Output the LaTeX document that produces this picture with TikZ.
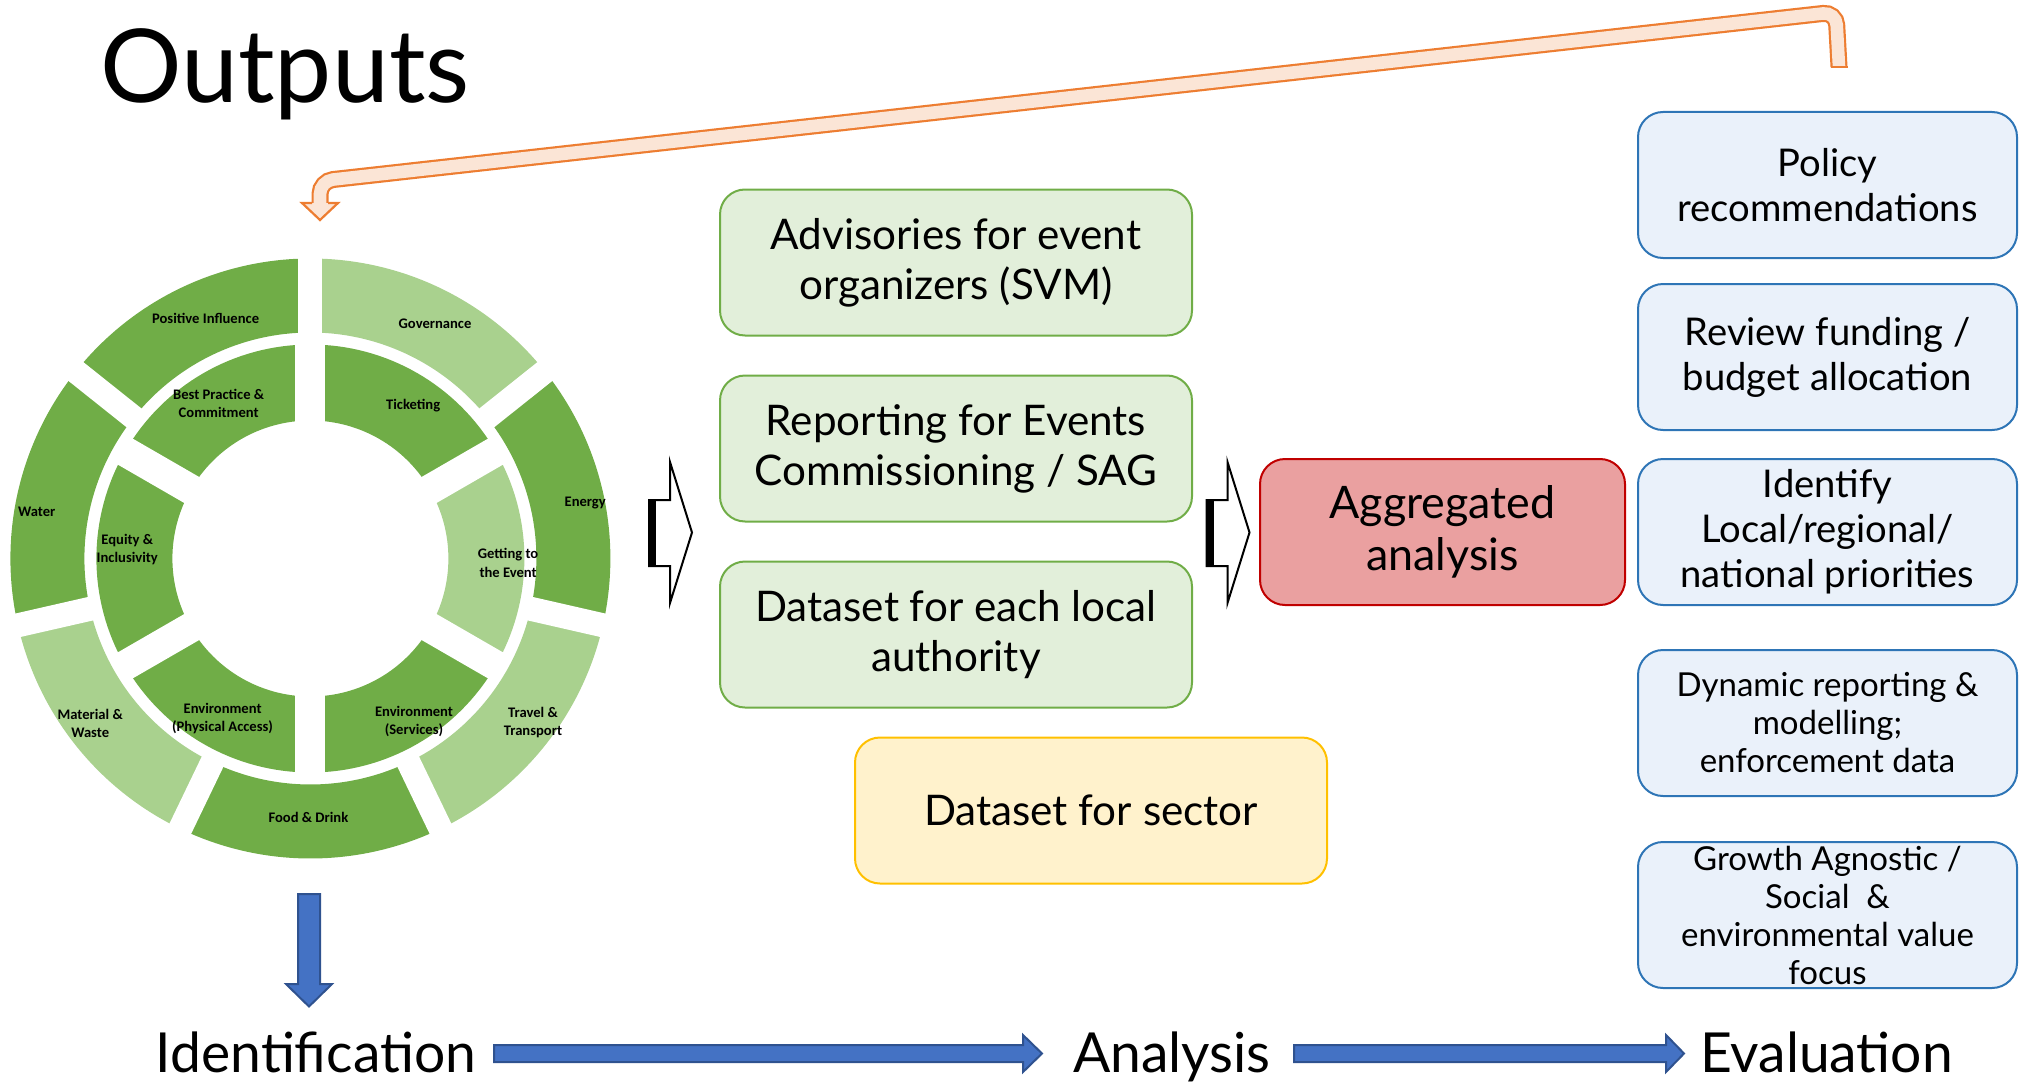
\documentclass[tikz,border=0pt]{standalone}
\usepackage{fontspec}
\setmainfont{Lato}
\newfontfamily\wheelfont{Carlito}
\usetikzlibrary{positioning}
\definecolor{darkgrn}{RGB}{112,173,71}
\definecolor{lightgrn}{RGB}{169,209,142}
\definecolor{grnfill}{RGB}{226,239,218}
\definecolor{bluefill}{RGB}{234,241,250}
\definecolor{blueline}{RGB}{46,117,182}
\definecolor{redfill}{RGB}{234,160,160}
\definecolor{redline}{RGB}{192,0,0}
\definecolor{yelfill}{RGB}{255,242,204}
\definecolor{yelline}{RGB}{255,192,0}
\definecolor{arrfill}{RGB}{68,114,196}
\definecolor{arrline}{RGB}{47,82,143}
\definecolor{orfill}{RGB}{251,229,214}
\definecolor{orline}{RGB}{237,125,49}

\begin{document}
\begin{tikzpicture}[x=0.5pt,y=0.5pt,
  box/.style={rounded corners=12.5pt, line width=1pt, align=center, inner sep=0pt, minimum height=73pt},
  grnbox/.style={box, draw=darkgrn, fill=grnfill, minimum width=236pt, font=\fontsize{21.1}{25}\selectfont},
  yelbox/.style={box, draw=yelline, fill=yelfill, minimum width=236pt, font=\fontsize{21.1}{25}\selectfont},
  redbox/.style={box, draw=redline, fill=redfill, minimum width=182.5pt, font=\fontsize{22.4}{26}\selectfont},
  bluebox/.style={box, draw=blueline, fill=bluefill, minimum width=189.5pt, font=\fontsize{19.1}{22.5}\selectfont},
  smallblue/.style={bluebox, font=\fontsize{16.5}{19}\selectfont},
  wlabel/.style={align=center, inner sep=0pt, font=\wheelfont\bfseries\fontsize{7.3}{9.2}\selectfont},
  stage/.style={anchor=base, inner sep=0pt, font=\fontsize{27.6}{30}\selectfont},
  blockarr/.style={fill=arrfill, draw=arrline, line width=1pt},
  outarr/.style={fill=white, draw=black, line width=1pt, line join=miter}]
\useasboundingbox (0,0) rectangle (2022,-1086);

\node[anchor=base west, inner sep=0pt, font=\fontsize{51}{51}\selectfont] (title) at (100,-103) {Outputs};

\begin{scope}[shift={(310.4,-558.5)}]
\foreach \a/\c in {90/darkgrn, 141.43/darkgrn, 192.86/lightgrn, 244.29/darkgrn, 295.71/lightgrn, 347.14/darkgrn, 398.57/lightgrn}
  \draw[\c, line width=37pt] (\a:263) arc[start angle=\a, delta angle=51.43, radius=263];
\foreach \a/\c in {90/darkgrn, 150/darkgrn, 210/darkgrn, 270/darkgrn, 330/lightgrn, 390/darkgrn}
  \draw[\c, line width=38pt] (\a:176) arc[start angle=\a, delta angle=60, radius=176];
\foreach \a in {90, 141.43, 192.86, 244.29, 295.71, 347.14, 398.57}
  \draw[white, line width=12pt] (\a:220) -- (\a:310);
\foreach \a in {30, 90, 150, 210, 270, 330}
  \draw[white, line width=15pt] (\a:130) -- (\a:220);
\end{scope}

\node[wlabel] (posinf) at (205.6,-318.5) {Positive Influence};
\node[wlabel] (gov) at (435,-323.8) {Governance};
\node[wlabel] (bestp) at (218.7,-403.5) {Best Practice \&\\Commitment};
\node[wlabel] (ticket) at (413.2,-405.6) {Ticketing};
\node[wlabel] (water) at (36.8,-511.9) {Water};
\node[wlabel] (energy) at (585.2,-502.5) {Energy};
\node[wlabel] (equity) at (127.3,-549.5) {Equity \&\\Inclusivity};
\node[wlabel] (getting) at (508.1,-563) {Getting to\\the Event};
\node[wlabel] (waste) at (90.2,-723.2) {Material \&\\Waste};
\node[wlabel] (envpa) at (222.6,-718.3) {Environment\\(Physical Access)};
\node[wlabel] (envsv) at (414,-721.2) {Environment\\(Services)};
\node[wlabel] (travel) at (533,-722.4) {Travel \&\\Transport};
\node[wlabel] (food) at (308.4,-817.7) {Food \& Drink};

\node[grnbox] (adv) at (956,-262.5) {Advisories for event\\organizers (SVM)};
\node[grnbox, below=19pt of adv] (rep) {Reporting for Events\\Commissioning / SAG};
\node[grnbox, below=19pt of rep] (local) {Dataset for each local\\authority};
\node[yelbox] (sector) at (1091,-810.5) {Dataset for sector};
\node[redbox] (agg) at (1442.5,-532) {Aggregated\\analysis};

\node[bluebox] (policy) at (1827.5,-185) {Policy\\recommendations};
\node[bluebox] (review) at (1827.5,-357) {Review funding /\\budget allocation};
\node[bluebox] (prior) at (1827.5,-532) {Identify\\Local/regional/\\national priorities};
\node[smallblue] (dynrep) at (1827.5,-723) {Dynamic reporting \&\\modelling;\\enforcement data};
\node[smallblue] (growth) at (1827.5,-915) {Growth Agnostic /\\Social\ \ \&\\environmental value\\focus};

\foreach \s in {0, 557.5} {
\begin{scope}[shift={(\s,0)}]
\draw[outarr] (649,-500) -- (670,-500) -- (670,-462) -- (692,-532.5) -- (670,-603) -- (670,-566) -- (649,-566) -- cycle;
\fill (649,-500) rectangle (656,-566);
\end{scope}
}

\node[stage] (ident) at (316,-1072) {Identification};
\node[stage] (analysis) at (1172,-1072) {Analysis};
\node[stage] (eval) at (1826.5,-1072) {Evaluation};

\draw[blockarr] (298,-894) -- (320,-894) -- (320,-984) -- (332,-984) -- (309,-1006.5) -- (286,-984) -- (298,-984) -- cycle;
\draw[blockarr] (494,-1045) -- (1023,-1045) -- (1023,-1035) -- (1042,-1053.5) -- (1023,-1072) -- (1023,-1062) -- (494,-1062) -- cycle;
\draw[blockarr] (1294,-1045) -- (1666,-1045) -- (1666,-1035) -- (1684,-1053.5) -- (1666,-1072) -- (1666,-1062) -- (1294,-1062) -- cycle;

\draw[orline, double=orfill, double distance=6.3pt, line width=1.1pt, rounded corners=6.5pt] (1839,-67) -- (1836,-12) -- (320,-181) -- (320,-203);
\fill[orfill] (302,-203) -- (320,-220) -- (338,-203) -- cycle;
\draw[orline, line width=1.1pt] (312,-203) -- (302,-203) -- (320,-220) -- (338,-203) -- (328,-203);
\draw[orline, line width=1.1pt] (1830.5,-67) -- (1847.5,-67);
\end{tikzpicture}
\end{document}
